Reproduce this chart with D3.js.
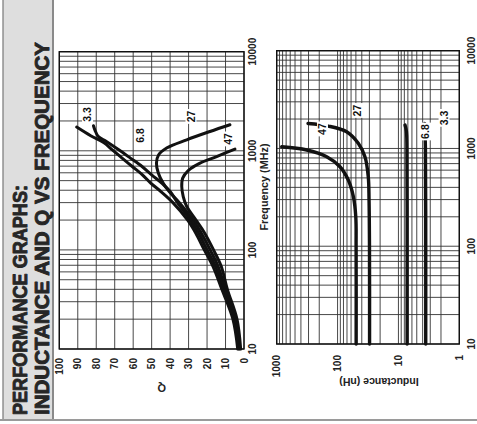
<!DOCTYPE html>
<html><head><meta charset="utf-8">
<script src="https://cdn.jsdelivr.net/npm/d3@7"></script>
<style>
html,body{margin:0;padding:0;background:#fff;}
svg{display:block;font-family:"Liberation Sans",Arial,sans-serif;}
</style></head>
<body>
<svg id="chart" width="477" height="424"></svg>
<script>
// ---------- DATA ----------
const titleLines = ["PERFORMANCE GRAPHS:", "INDUCTANCE AND Q VS FREQUENCY"];
const freqTickLabels = [10, 100, 1000, 10000];
const qTickLabels = [0, 10, 20, 30, 40, 50, 60, 70, 80, 90, 100];
const indTickLabels = [1, 10, 100, 1000];
const seriesNames = ["3.3", "6.8", "27", "47"];

// Q vs frequency (MHz)
const q33Freq = [10, 20, 40, 68, 100, 150, 200, 300, 388, 472, 572, 694, 844, 1023, 1213, 1419, 1734];
const q33Val  = [3.4, 6.0, 12.0, 16.8, 21.5, 26.3, 30.5, 38.5, 45.0, 50.5, 55.0, 60.5, 66.0, 71.3, 76.0, 83.0, 90.6];
const q68Freq = [10, 20, 40, 68, 100, 150, 200, 300, 388, 472, 572, 694, 844, 1023, 1242, 1400, 1600, 1790];
const q68Val  = [2.8, 5.3, 11.0, 15.4, 20.0, 24.8, 29.0, 36.0, 40.0, 44.5, 50.0, 55.2, 61.5, 67.8, 74.5, 79.0, 80.6, 81.5];
const q27Freq = [10, 20, 40, 68, 100, 150, 200, 300, 388, 472, 596, 751, 912, 1065, 1291, 1567, 1833];
const q27Val  = [2.3, 4.6, 10.0, 14.0, 18.3, 23.3, 27.5, 35.0, 40.5, 43.8, 46.4, 47.4, 46.2, 41.9, 31.0, 18.4, 7.6];
const q47Freq = [10, 20, 40, 68, 100, 150, 200, 274, 345, 436, 530, 632, 751, 875, 1040];
const q47Val  = [1.8, 3.8, 9.0, 12.3, 16.5, 21.5, 26.0, 31.0, 32.9, 33.7, 33.2, 30.2, 23.8, 14.8, 4.9];

// Inductance (nH) vs frequency (MHz)
const l33Freq = [10, 100, 1000, 1800];
const l33Val  = [3.56, 3.56, 3.6, 3.7];
const l68Freq = [10, 100, 1000, 1500, 1734];
const l68Val  = [7.2, 7.2, 7.25, 7.4, 7.8];
const l27Freq = [10, 100, 297, 514, 822, 1128, 1482, 1694, 1800];
const l27Val  = [29.8, 29.9, 30.4, 31.3, 35.5, 45.7, 71, 142, 306];
const l47Freq = [10, 100, 200, 321, 475, 650, 822, 964, 1040];
const l47Val  = [49.5, 49.6, 50.2, 55.0, 66.7, 91.4, 151, 322, 828];

// curve label anchors (freq, value)
const qLabelFreq = [2325, 1426, 2218, 1315];
const qLabelVal  = [84.7, 56.3, 28.7, 8.7];
const lLabelFreq = [2052, 1489, 2443, 1581];
const lLabelVal  = [1.78, 3.59, 47.1, 177];

// ---------- DRAW ----------
const svg = d3.select("#chart");
// whole figure is rotated 90° counter-clockwise
const g = svg.append("g").attr("transform", "translate(0,424) rotate(-90)");

// title band
g.append("rect").attr("x", 4).attr("y", 3).attr("width", 420).attr("height", 50)
  .attr("fill", "#dedede");
g.append("line").attr("x1", 4).attr("x2", 424).attr("y1", 3).attr("y2", 3)
  .attr("stroke", "#777").attr("stroke-width", 1.2);
g.append("line").attr("x1", 4).attr("x2", 424).attr("y1", 53).attr("y2", 53)
  .attr("stroke", "#8a8a8a").attr("stroke-width", 2);
g.append("line").attr("x1", 4).attr("x2", 4).attr("y1", 0).attr("y2", 477)
  .attr("stroke", "#9a9a9a").attr("stroke-width", 2);

const titleLen = [230, 373];
const titleY = [27, 48.5];
titleLines.forEach((t, i) => {
  g.append("text").attr("x", 9).attr("y", titleY[i])
    .attr("textLength", titleLen[i]).attr("lengthAdjust", "spacingAndGlyphs")
    .attr("font-size", 20).attr("font-weight", "bold").attr("fill", "#262626")
    .attr("stroke", "#262626").attr("stroke-width", 0.9).attr("stroke-linejoin", "round")
    .text(t);
});

// scales
const xQ = d3.scaleLog().domain([10, 10000]).range([75, 372.3]);
const yQ = d3.scaleLinear().domain([0, 100]).range([244, 59.3]);
const xL = d3.scaleLog().domain([10, 10000]).range([80, 373.3]);
const yL = d3.scaleLog().domain([1, 1000]).range([459.3, 276.7]);

const gridColor = "#333";
function drawGrid(xs, ys, yTicks) {
  const gg = g.append("g");
  gg.selectAll(".vx").data(xs.ticks()).enter().append("line")
    .attr("x1", d => xs(d)).attr("x2", d => xs(d))
    .attr("y1", ys.range()[0]).attr("y2", ys.range()[1])
    .attr("stroke", gridColor).attr("stroke-width", 0.9);
  gg.selectAll(".hy").data(yTicks).enter().append("line")
    .attr("x1", xs.range()[0]).attr("x2", xs.range()[1])
    .attr("y1", d => ys(d)).attr("y2", d => ys(d))
    .attr("stroke", gridColor).attr("stroke-width", 0.9);
  gg.append("rect").attr("x", xs.range()[0]).attr("y", ys.range()[1])
    .attr("width", xs.range()[1] - xs.range()[0]).attr("height", ys.range()[0] - ys.range()[1])
    .attr("fill", "none").attr("stroke", "#111").attr("stroke-width", 1.4);
}
drawGrid(xQ, yQ, d3.range(0, 101, 10));
drawGrid(xL, yL, yL.ticks());

function curve(xs, ys, fr, vals, w) {
  const line = d3.line().x(d => xs(d[0])).y(d => ys(d[1])).curve(d3.curveCatmullRom.alpha(0.5));
  g.append("path").attr("d", line(fr.map((f, i) => [f, vals[i]])))
    .attr("fill", "none").attr("stroke", "#111").attr("stroke-width", w)
    .attr("stroke-linecap", "round").attr("stroke-linejoin", "round");
}
curve(xQ, yQ, q47Freq, q47Val, 3);
curve(xQ, yQ, q27Freq, q27Val, 3);
curve(xQ, yQ, q68Freq, q68Val, 3);
curve(xQ, yQ, q33Freq, q33Val, 3);
curve(xL, yL, l47Freq, l47Val, 3.4);
curve(xL, yL, l27Freq, l27Val, 3.4);
curve(xL, yL, l68Freq, l68Val, 3.4);
curve(xL, yL, l33Freq, l33Val, 3.4);

function labels(xs, ys, fr, vals) {
  seriesNames.forEach((n, i) => {
    const cx = xs(fr[i]), cy = ys(vals[i]);
    const t = g.append("text").attr("x", cx).attr("y", cy).attr("dy", "0.36em")
      .attr("text-anchor", "middle").attr("font-size", 10.5).attr("font-weight", "bold")
      .attr("fill", "#111").text(n);
    const bb = t.node().getBBox();
    g.insert("rect", () => t.node()).attr("x", bb.x - 1.5).attr("y", cy - 5.5)
      .attr("width", bb.width + 3).attr("height", 11).attr("fill", "#fff");
  });
}
labels(xQ, yQ, qLabelFreq, qLabelVal);
labels(xL, yL, lLabelFreq, lLabelVal);

// tick labels
const tickFont = 10;
g.selectAll(".qy").data(qTickLabels).enter().append("text")
  .attr("x", 66).attr("y", d => yQ(d)).attr("dy", "0.36em").attr("text-anchor", "end")
  .attr("font-size", tickFont).attr("font-weight", "bold").attr("fill", "#222").text(d => d);
g.selectAll(".qx").data(freqTickLabels).enter().append("text")
  .attr("x", d => xQ(d)).attr("y", 256).attr("text-anchor", "middle")
  .attr("font-size", tickFont).attr("font-weight", "bold").attr("fill", "#222").text(d => d);
g.selectAll(".ly").data(indTickLabels).enter().append("text")
  .attr("x", 69).attr("y", d => yL(d)).attr("dy", "0.36em").attr("text-anchor", "end")
  .attr("font-size", tickFont).attr("font-weight", "bold").attr("fill", "#222").text(d => d);
g.selectAll(".lx").data(freqTickLabels).enter().append("text")
  .attr("x", d => xL(d)).attr("y", 475).attr("text-anchor", "middle")
  .attr("font-size", tickFont).attr("font-weight", "bold").attr("fill", "#222").text(d => d);

// axis titles
g.append("text").attr("transform", "translate(36,161.7) rotate(-90)").attr("dy", "0.36em")
  .attr("text-anchor", "middle").attr("font-size", 11).attr("font-weight", "bold")
  .attr("fill", "#222").text("Q");
g.append("text").attr("transform", "translate(42,379) rotate(-90)").attr("dy", "0.36em")
  .attr("text-anchor", "middle").attr("font-size", 10.5).attr("font-weight", "bold")
  .attr("fill", "#222").text("Inductance (nH)");
g.append("text").attr("x", 237).attr("y", 268).attr("text-anchor", "middle")
  .attr("font-size", 10.8).attr("font-weight", "bold").attr("fill", "#222").text("Frequency (MHz)");
</script>
</body></html>
